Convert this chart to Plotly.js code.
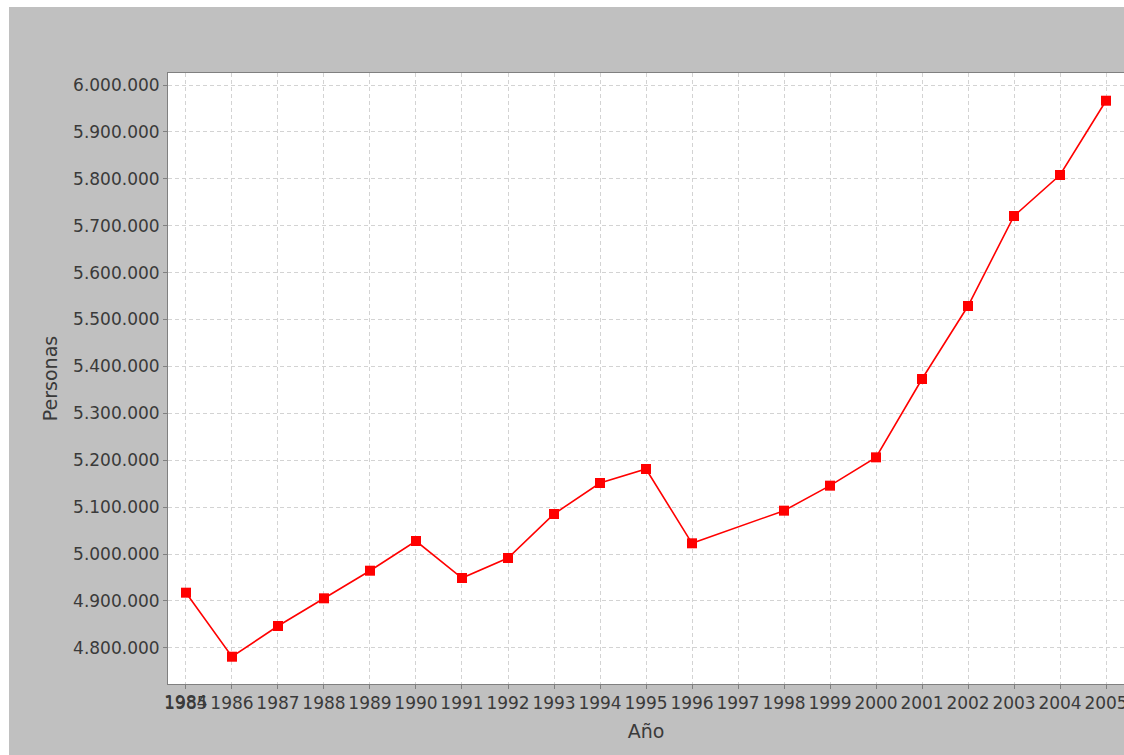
<!DOCTYPE html>
<html>
<head>
<meta charset="utf-8">
<script src="https://cdn.plot.ly/plotly-3.0.1.min.js"></script>
<style>
  html, body { margin: 0; padding: 0; background: #ffffff; overflow: hidden; }
  #chart { position: absolute; left: 9px; top: 7px; width: 1115px; height: 748px; }
</style>
</head>
<body>
<div id="chart"></div>
<script>
// Data
const years = [1985, 1986, 1987, 1988, 1989, 1990, 1991, 1992, 1993, 1994, 1995, 1996, 1998, 1999, 2000, 2001, 2002, 2003, 2004, 2005];
const personas = [4917500, 4781000, 4846500, 4905500, 4964400, 5027700, 4948800, 4991500, 5085300, 5151400, 5181200, 5022800, 5092400, 5145700, 5206100, 5373100, 5528800, 5720700, 5808100, 5966500];
const tickYears = [1985, 1986, 1987, 1988, 1989, 1990, 1991, 1992, 1993, 1994, 1995, 1996, 1997, 1998, 1999, 2000, 2001, 2002, 2003, 2004, 2005];
const tickYearLabels = ["1985", "1986", "1987", "1988", "1989", "1990", "1991", "1992", "1993", "1994", "1995", "1996", "1997", "1998", "1999", "2000", "2001", "2002", "2003", "2004", "2005"];
const overlapLabel = "1984";
const xTitle = "Año";
const yTitle = "Personas";

const fontFamily = "DejaVu Sans, sans-serif";
const textColor = "#3a3a3a";

const trace = {
  x: years,
  y: personas,
  type: "scatter",
  mode: "lines+markers",
  line: { color: "#ff0000", width: 1.6 },
  marker: { symbol: "square", size: 10, color: "#ff0000" },
  hoverinfo: "x+y"
};

const layout = {
  width: 1115,
  height: 748,
  paper_bgcolor: "#c0c0c0",
  plot_bgcolor: "#ffffff",
  separators: ",.",
  margin: { l: 159, r: 0, t: 66, b: 71, pad: 0 },
  showlegend: false,
  font: { family: fontFamily, color: textColor },
  xaxis: {
    range: [1984.609, 2005.391],
    tickmode: "array",
    tickvals: tickYears,
    ticktext: tickYearLabels,
    tickangle: 0,
    ticklabeloverflow: "allow",
    ticks: "outside",
    ticklen: 4,
    tickcolor: "#808080",
    tickfont: { family: fontFamily, size: 17, color: textColor },
    showgrid: true,
    gridcolor: "#d3d3d3",
    griddash: "4px,3px",
    gridwidth: 1,
    showline: true,
    linecolor: "#808080",
    linewidth: 1,
    mirror: true,
    zeroline: false,
    title: { text: xTitle, font: { family: fontFamily, size: 19, color: textColor }, standoff: 12 }
  },
  yaxis: {
    range: [4722818, 6025590],
    tickmode: "linear",
    tick0: 4800000,
    dtick: 100000,
    tickformat: ",.0f",
    ticks: "outside",
    ticklen: 4,
    tickcolor: "#808080",
    tickfont: { family: fontFamily, size: 17, color: textColor },
    showgrid: true,
    gridcolor: "#d3d3d3",
    griddash: "4px,3px",
    gridwidth: 1,
    showline: true,
    linecolor: "#808080",
    linewidth: 1,
    mirror: true,
    zeroline: false,
    title: { text: yTitle, font: { family: fontFamily, size: 19, color: textColor }, standoff: 10 }
  },
  annotations: [{
    x: tickYears[0],
    xref: "x",
    y: 0,
    yref: "paper",
    yanchor: "top",
    xanchor: "center",
    yshift: -6,
    showarrow: false,
    text: overlapLabel,
    font: { family: fontFamily, size: 17, color: textColor }
  }]
};

Plotly.newPlot("chart", [trace], layout, { displayModeBar: false, staticPlot: true });
</script>
</body>
</html>
